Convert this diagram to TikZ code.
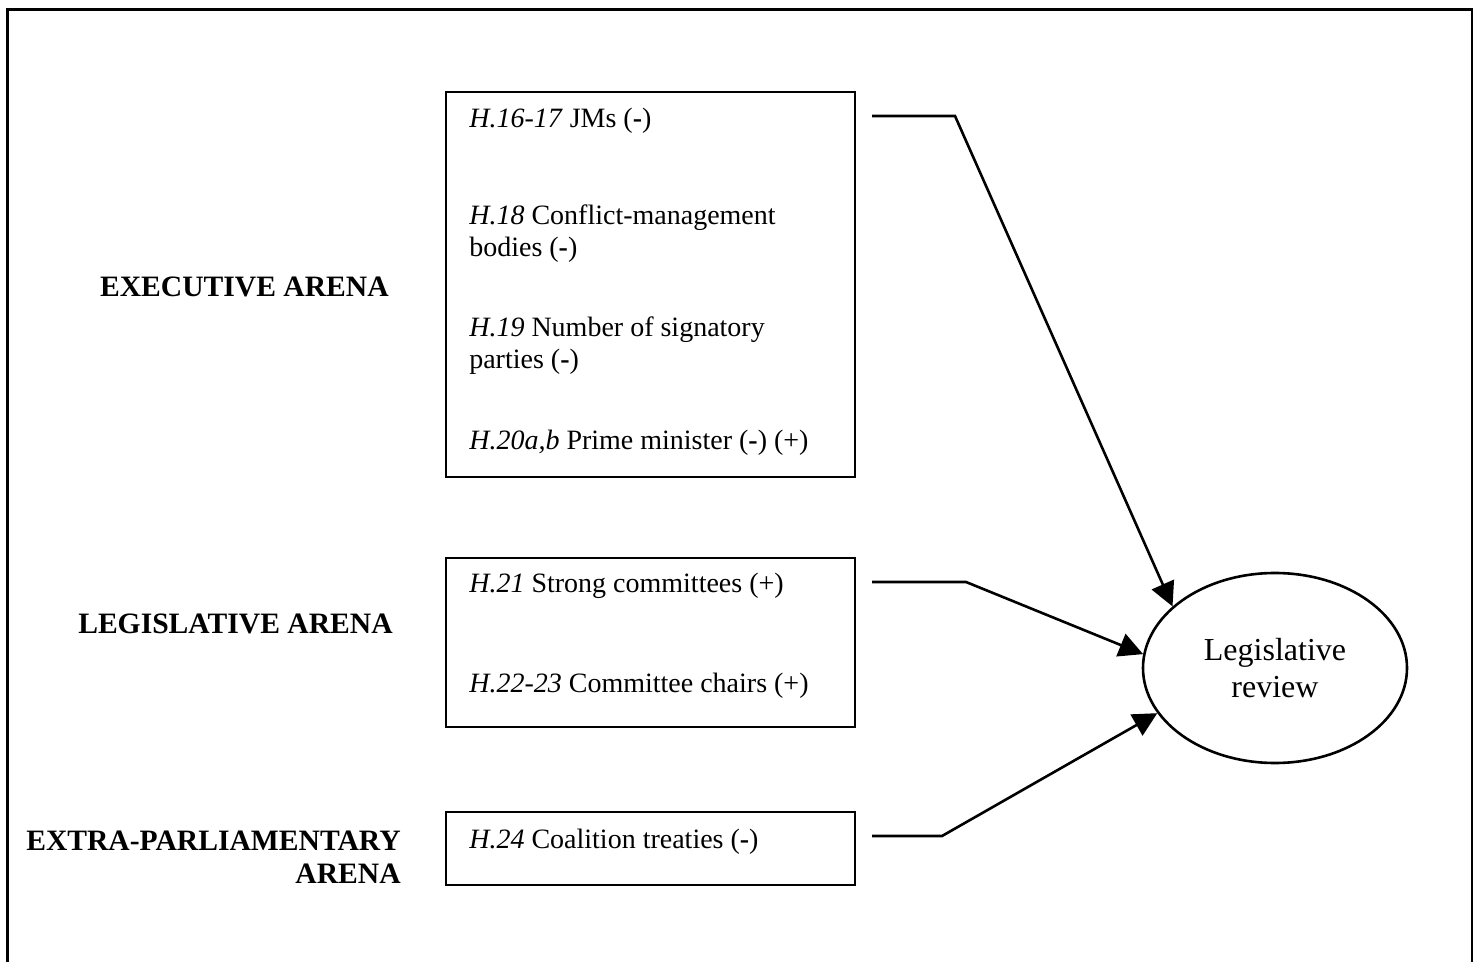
\documentclass[tikz,border=0pt]{standalone}
\usepackage{fontspec}
\setmainfont{Liberation Serif}
\usetikzlibrary{arrows.meta,shapes.geometric}
\begin{document}
\begin{tikzpicture}[x=0.5pt,y=-0.5pt,line width=1.3pt,
  hypbox/.style={draw,line width=1.3pt,minimum width=204.5pt,inner sep=0pt},
  hyptext/.style={anchor=base west,inner sep=0pt,align=left,
    font=\fontsize{14}{16}\selectfont},
  arena/.style={anchor=base east,inner sep=0pt,align=right,
    font=\fontsize{14.8}{16.5}\selectfont\bfseries},
  outcome/.style={ellipse,draw,line width=1.3pt,inner sep=0pt,
    minimum width=132pt,minimum height=95pt,align=center,
    font=\fontsize{16}{18.5}\selectfont},
  link/.style={line width=1.3pt,-{Triangle[length=12pt,width=12pt]}}]
\useasboundingbox (0,0) rectangle (1479,962);

% open frame around the figure
\draw (7.5,962) -- (7.5,9.5) -- (1472,9.5) -- (1472,962);

% hypothesis boxes
\node[hypbox,minimum height=192.5pt] (b1) at (650.5,284.5) {};
\node[hypbox,minimum height=84.5pt]  (b2) at (650.5,642.5) {};
\node[hypbox,minimum height=36.5pt]  (b3) at (650.5,848.5) {};

% hypotheses (multi-line nodes sit on the baseline of their last line)
\node[hyptext] (h1) at (468,128) {\textit{H.16-17} JMs (\textbf{-})};
\node[hyptext] (h2) at (468,257) {\textit{H.18} Conflict-management\\bodies (\textbf{-})};
\node[hyptext] (h3) at (468,369) {\textit{H.19} Number of signatory\\parties (\textbf{-})};
\node[hyptext] (h4) at (468,450) {\textit{H.20a,b} Prime minister (\textbf{-}) (+)};
\node[hyptext] (h5) at (468,593) {\textit{H.21} Strong committees (+)};
\node[hyptext] (h6) at (468,692) {\textit{H.22-23} Committee chairs (+)};
\node[hyptext] (h7) at (468,848) {\textit{H.24} Coalition treaties (\textbf{-})};

% arena labels
\node[arena] (a1) at (390,297) {EXECUTIVE ARENA};
\node[arena] (a2) at (394,633) {LEGISLATIVE ARENA};
\node[arena] (a3) at (402,883) {EXTRA-PARLIAMENTARY\\ARENA};

% dependent variable
\node[outcome] (rev) at (1275,668) {Legislative\\review};

% connectors
\coordinate (s1) at (872,116);
\coordinate (k1) at (955,116);
\coordinate (s2) at (872,582);
\coordinate (k2) at (966,582);
\coordinate (s3) at (872,836);
\coordinate (k3) at (942,836);
\draw[link] (s1) -- (k1) -- (rev.149);
\draw[link] (s2) -- (k2) -- (rev.174);
\draw[link] (s3) -- (k3) -- (rev.201);
\end{tikzpicture}
\end{document}
